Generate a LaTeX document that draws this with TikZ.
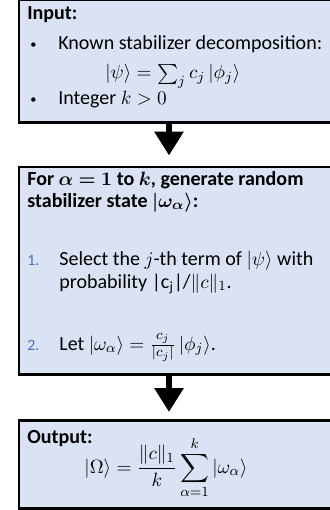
\documentclass[tikz,border=0pt]{standalone}
\usepackage{amsmath,amssymb,bm}
\usepackage{fontspec}
\setmainfont{Carlito}
\usetikzlibrary{arrows.meta,positioning,calc}
\definecolor{boxfill}{RGB}{218,227,243}
\definecolor{numblue}{RGB}{68,114,196}

\tikzset{
  stepbox/.style={draw=black,line width=1.7pt,fill=boxfill,anchor=north west,inner sep=0pt,minimum width=6.45cm},
  textline/.style={anchor=base west,inner sep=0pt},
  flowarrow/.style={line width=0.12cm,-{Triangle[length=0.48cm,width=0.56cm]}},
}

\begin{document}
\begin{tikzpicture}[x=0.02cm,y=-0.02cm,font=\fontsize{11.4}{13.5}\selectfont]
  \useasboundingbox (0,0) rectangle (329,510);
  % boxes
  \node[stepbox,minimum height=2.46cm] (input) at (17.5,-2) {};
  \node[stepbox,minimum height=4.16cm] (loop) at (17.5,165.5) {};
  \node[stepbox,minimum height=1.76cm] (output) at (17.5,419) {};
  % input
  \node[textline] (intitle) at (27,20) {\textbf{Input:}};
  \node[textline,font=\scriptsize] (bulA) at (30,49) {\textbullet};
  \node[textline] (known) at (58,50) {Known stabilizer decomposition:};
  \node[textline] (psi) at (105,79) {$|\psi\rangle = \sum_j c_j\,|\phi_j\rangle$};
  \node[textline,font=\scriptsize] (bulB) at (30,104) {\textbullet};
  \node[textline] (kint) at (58,105) {Integer $k>0$};
  % loop
  \node[textline] (looptitle) at (27,185) {\textbf{For $\bm{\alpha = 1}$ to $\bm{k}$, generate random}};
  \node[textline] (looptitleB) at (27,207) {\textbf{stabilizer state $\bm{|\omega_\alpha\rangle}$:}};
  \node[textline,numblue,font=\small] (numA) at (27,265) {1.};
  \node[textline] (select) at (59,265) {Select the $j$-th term of $|\psi\rangle$ with};
  \node[textline] (prob) at (59,288) {probability |c\textsubscript{j}|/$\|c\|_1$.};
  \node[textline,numblue,font=\small] (numB) at (27,350) {2.};
  \node[textline] (let) at (59,350) {Let $|\omega_\alpha\rangle = \frac{c_j}{|c_j|}\,|\phi_j\rangle$.};
  % output
  \node[textline] (outtitle) at (27,443) {\textbf{Output:}};
  \node[anchor=base,inner sep=0pt] (omega) at (166,473)
    {$\displaystyle |\Omega\rangle = \frac{\|c\|_1}{k}\sum_{\alpha=1}^{k}|\omega_\alpha\rangle$};
  % arrows
  \coordinate (axis) at (169,0);
  \draw[flowarrow] (input.south -| axis) -- ([yshift=0.2cm]loop.north -| axis);
  \draw[flowarrow] (loop.south -| axis) -- ([yshift=0.14cm]output.north -| axis);
\end{tikzpicture}
\end{document}
